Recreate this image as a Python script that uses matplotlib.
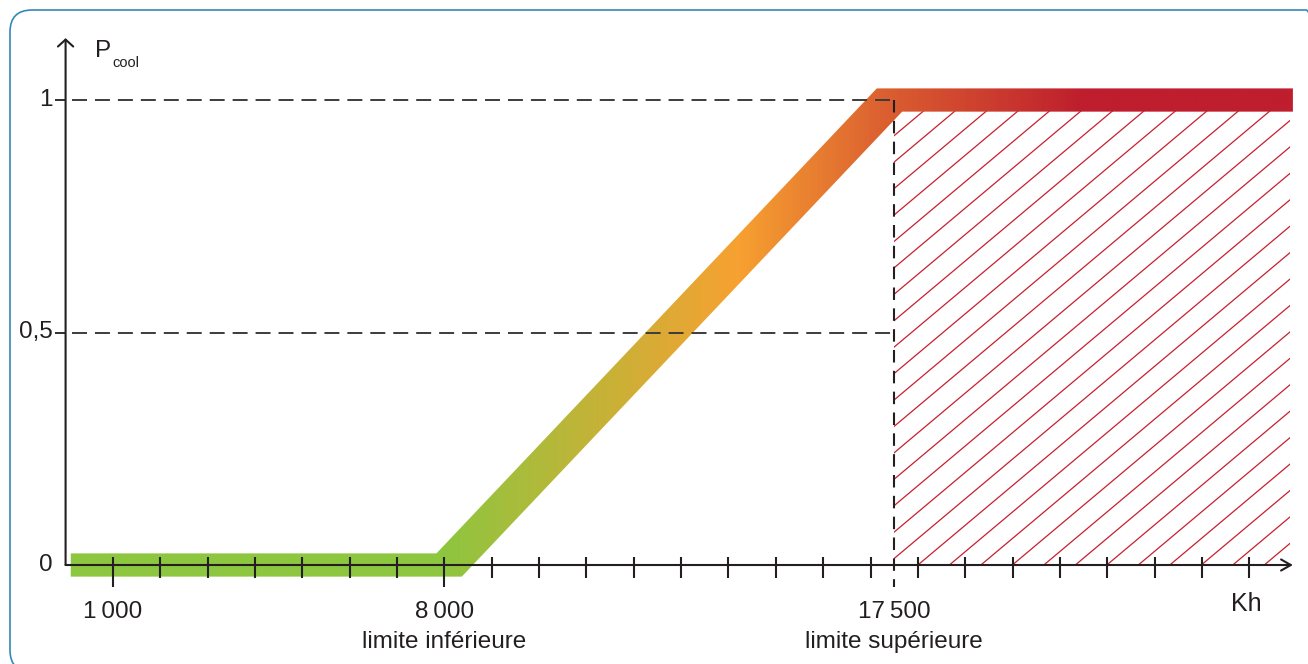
import numpy as np
import matplotlib.pyplot as plt
from matplotlib.colors import LinearSegmentedColormap
from matplotlib.patches import Polygon, Rectangle, FancyBboxPatch
from matplotlib.transforms import IdentityTransform

plt.rcParams['font.family'] = ['Liberation Sans', 'DejaVu Sans']

# P_cool as a function of Kh (knees)
curve_kh = [110, 8100, 17400, 25920]
curve_p = [0, 0, 1, 1]

# labelled positions on the Kh axis
label_kh = [1000, 8000, 17500]
label_txt = ['1\u2009000', '8\u2009000', '17\u2009500']
label_sub = ['', 'limite inférieure', 'limite supérieure']
tick_kh = np.arange(1000, 26000, 1000)

# levels on the P axis
level_p = [0, 0.5, 1]
level_txt = ['0', '0,5', '1']

# colour of the band along Kh
grad_kh = [0, 7900, 14200, 17300, 21500, 26000]
grad_col = ['#8dc63f', '#8dc63f', '#f7a131', '#db5f30', '#be1e2d', '#be1e2d']

ink = '#231f20'
red = '#c8202f'

fig = plt.figure(figsize=(13.08, 6.64), dpi=100)

# rounded frame, in pixels (origin bottom left), running off the right and bottom
frame = FancyBboxPatch((10, -8), 1318, 662,
                       boxstyle='round,pad=0,rounding_size=22',
                       fc='none', ec='#3589b5', lw=1.2,
                       transform=IdentityTransform())
fig.add_artist(frame)

ax = fig.add_axes([0, 0, 1, 1], zorder=1)
ax.patch.set_alpha(0)
ax.axis('off')

# hatched zone above the upper limit
hatch_clip = Rectangle((17500, 0), 25860 - 17500, 0.99, fc='none', ec='none')
ax.add_patch(hatch_clip)
hatch_step = 665      # Kh between hatch lines
hatch_rise = 11700    # Kh run for one unit of P
for k0 in np.arange(18000 - 20 * hatch_step, 26000, hatch_step):
    ln, = ax.plot([k0, k0 + hatch_rise], [0, 1], color=red, lw=0.9, zorder=1)
    ln.set_clip_path(hatch_clip)

# thick band with a horizontal colour gradient
x0, x1, x2, x3 = curve_kh
run = x2 - x1
h = 0.025     # half thickness of the flat parts (P units)
w = 500       # half width of the slope (Kh)
verts = [(x0, -h), (x1 + w - h * run, -h), (x2 + w - h * run, 1 - h),
         (x3, 1 - h), (x3, 1 + h), (x2 - w + h * run, 1 + h),
         (x1 - w + h * run, h), (x0, h)]
band = Polygon(verts, closed=True, fc='none', ec='none')
ax.add_patch(band)
stops = [(k - grad_kh[0]) / (grad_kh[-1] - grad_kh[0]) for k in grad_kh]
cmap = LinearSegmentedColormap.from_list('band', list(zip(stops, grad_col)))
im = ax.imshow(np.linspace(0, 1, 600)[None, :], cmap=cmap, aspect='auto',
               extent=(grad_kh[0], grad_kh[-1], -0.1, 1.1),
               interpolation='bilinear', zorder=2)
im.set_clip_path(band)

# dashed guides
dash = (8.7, (7.7, 4.1))
for p in level_p[1:]:
    ax.plot([0, 17500], [p, p], color='#3c3c3c', lw=1.4, ls=dash, zorder=3)
ax.plot([17500, 17500], [1, -0.047], color=ink, lw=1.5,
        ls=(0, (6, 4)), zorder=3)

# axes with arrow heads
ax.annotate('', xy=(25920, 0), xytext=(0, 0), zorder=4,
            arrowprops=dict(arrowstyle='->,head_length=0.7,head_width=0.4',
                            color=ink, lw=1.5, shrinkA=0, shrinkB=0))
ax.annotate('', xy=(0, 1.133), xytext=(0, 0), zorder=4,
            arrowprops=dict(arrowstyle='->,head_length=0.5,head_width=0.55',
                            color=ink, lw=1.5, shrinkA=0, shrinkB=0))

# ticks
short = [k for k in tick_kh if k not in label_kh]
ax.vlines(short, -0.028, 0.017, color=ink, lw=1.5, zorder=4)
ax.vlines([k for k in label_kh if k in tick_kh], -0.047, 0.017,
          color=ink, lw=1.5, zorder=4)
ax.hlines(level_p[1:], -232, 0, color=ink, lw=1.3, zorder=4)

# texts
for k, t, s in zip(label_kh, label_txt, label_sub):
    ax.text(k, -0.114, t, ha='center', va='baseline', fontsize=17.5, color=ink)
    if s:
        ax.text(k, -0.1785, s, ha='center', va='baseline',
                fontsize=17.5, color=ink)
for p, t in zip(level_p, level_txt):
    ax.text(-280, p - 0.012, t, ha='right', va='baseline',
            fontsize=17.5, color=ink)
ax.text(24930, -0.099, 'Kh', ha='center', va='baseline', fontsize=18, color=ink)
ax.text(620, 1.0925, 'P', ha='left', va='baseline', fontsize=17.5, color=ink)
ax.text(982, 1.071, 'cool', ha='left', va='baseline', fontsize=10.5, color=ink)

ax.set_xlim(-1385, 26239)
ax.set_ylim(-0.2129, 1.2151)

fig.savefig('out.png', dpi=100)
